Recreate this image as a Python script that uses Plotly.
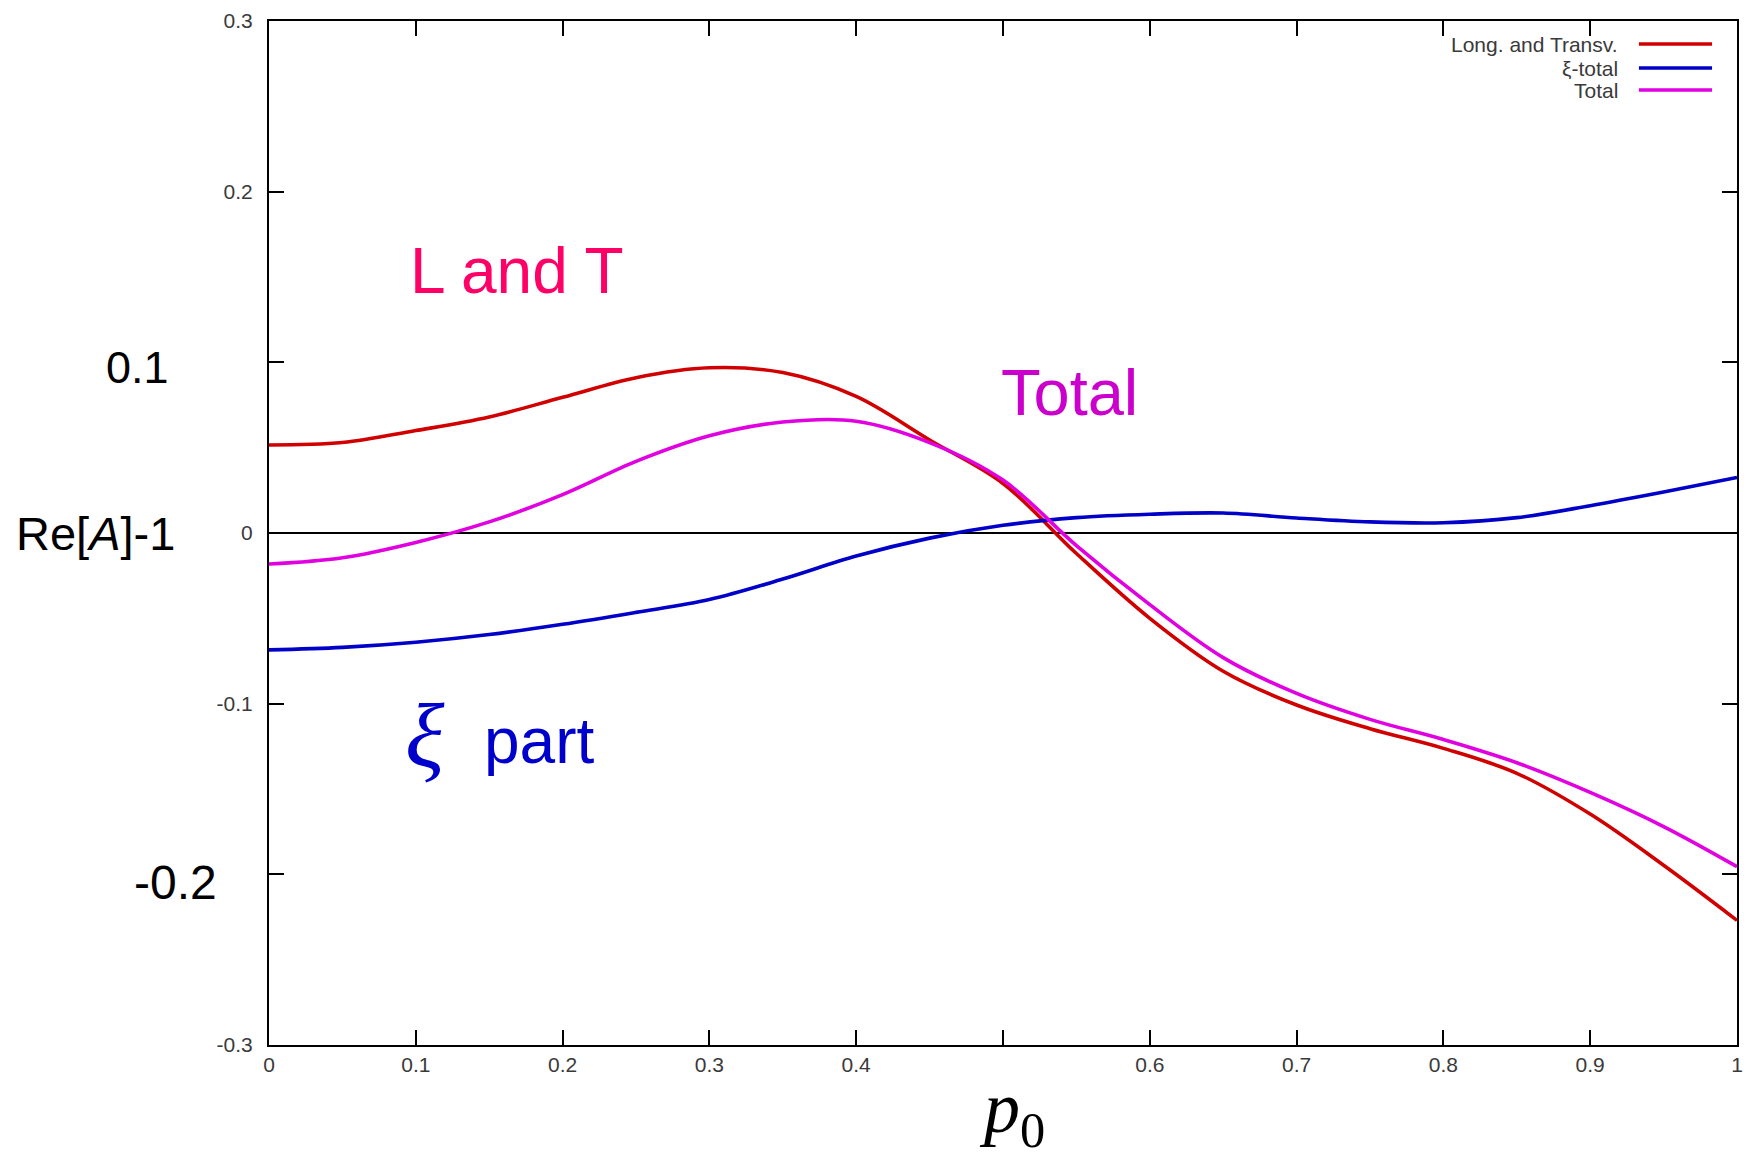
import plotly.graph_objects as go

# ---------------- data ----------------
p0 = [0.0, 0.05, 0.1, 0.15, 0.2, 0.25, 0.3, 0.35, 0.4, 0.45, 0.5,
      0.55, 0.6, 0.65, 0.7, 0.75, 0.8, 0.85, 0.9, 0.95, 1.0]

long_transv = [0.0516, 0.053, 0.060, 0.068, 0.0795, 0.091, 0.0968, 0.094, 0.080, 0.0545, 0.029,
               -0.012, -0.050, -0.081, -0.1008, -0.1147, -0.1262, -0.1408, -0.1647, -0.1947, -0.227]

xi_total = [-0.0685, -0.067, -0.064, -0.0595, -0.0535, -0.0465, -0.039, -0.027, -0.0135, -0.003, 0.0045,
            0.009, 0.011, 0.0117, 0.0088, 0.0065, 0.006, 0.009, 0.016, 0.024, 0.0325]

total = [-0.0182, -0.0145, -0.0055, 0.0065, 0.0225, 0.042, 0.057, 0.065, 0.0655, 0.053, 0.031,
         -0.0074, -0.042, -0.073, -0.094, -0.1092, -0.121, -0.1346, -0.152, -0.172, -0.1955]

series_names = ["Long. and Transv.", "ξ-total", "Total"]
series_colors = ["#D00000", "#0000C8", "#E000E0"]

x_tickvals = [0, 0.1, 0.2, 0.3, 0.4, 0.5, 0.6, 0.7, 0.8, 0.9, 1.0]
x_ticktext = ["0", "0.1", "0.2", "0.3", "0.4", "", "0.6", "0.7", "0.8", "0.9", "1"]
y_tickvals = [-0.3, -0.2, -0.1, 0, 0.1, 0.2, 0.3]
y_ticktext = ["-0.3", "", "-0.1", "0", "", "0.2", "0.3"]

# ---------------- figure ----------------
fig = go.Figure()
for name, ys, col in zip(series_names, [long_transv, xi_total, total], series_colors):
    fig.add_trace(go.Scatter(x=p0, y=ys, mode="lines", name=name,
                             line=dict(color=col, width=3.6, shape="spline", smoothing=1.0),
                             showlegend=False))

SANS = "Arial, Liberation Sans, sans-serif"
SERIF = "Times New Roman, Liberation Serif, serif"
TICKFONT = dict(family=SANS, size=21, color="#3a3a3a")

fig.update_layout(
    width=1747, height=1158,
    margin=dict(l=269, r=10, t=21, b=113),
    paper_bgcolor="white", plot_bgcolor="white",
    xaxis=dict(range=[0, 1], tickmode="array", tickvals=x_tickvals, ticktext=x_ticktext,
               ticks="inside", ticklen=15, tickwidth=1.5, tickcolor="black",
               showline=True, linecolor="black", linewidth=2, mirror="allticks",
               showgrid=False, zeroline=False, automargin=False,
               tickfont=TICKFONT),
    yaxis=dict(range=[-0.3, 0.3], tickmode="array", tickvals=y_tickvals, ticktext=y_ticktext,
               ticks="inside", ticklen=15, tickwidth=1.5, tickcolor="black",
               showline=True, linecolor="black", linewidth=2, mirror="allticks",
               showgrid=False, zeroline=True, zerolinecolor="black", zerolinewidth=2,
               automargin=False, ticklabelstandoff=10,
               tickfont=TICKFONT),
    showlegend=False,
)

# gnuplot-style key (text right-aligned, sample line to the right)
key_rows = [0.9775, 0.954, 0.9326]
for name, col, yy in zip(series_names, series_colors, key_rows):
    fig.add_annotation(xref="paper", yref="paper", x=0.9203, y=yy, text=name,
                       showarrow=False, xanchor="right", yanchor="middle",
                       font=dict(family=SANS, size=21, color="#3a3a3a"))
    fig.add_shape(type="line", xref="paper", yref="paper", x0=0.9332, x1=0.983, y0=yy, y1=yy,
                  line=dict(color=col, width=3.5))

# large overlay labels
fig.add_annotation(xref="paper", yref="y", x=-0.1185, y=0.0, text="Re[<i>A</i>]-1",
                   showarrow=False, xanchor="center", yanchor="middle",
                   font=dict(family=SANS, size=47, color="black"))
fig.add_annotation(xref="paper", yref="y", x=-0.0899, y=0.097, text="0.1",
                   showarrow=False, xanchor="center", yanchor="middle",
                   font=dict(family=SANS, size=45, color="black"))
fig.add_annotation(xref="paper", yref="y", x=-0.064, y=-0.2045, text="-0.2",
                   showarrow=False, xanchor="center", yanchor="middle",
                   font=dict(family=SANS, size=48, color="black"))

# curve labels
fig.add_annotation(x=0.169, y=0.1535, text="L and T", showarrow=False,
                   font=dict(family=SANS, size=64, color="#FF0066"))
fig.add_annotation(x=0.545, y=0.0826, text="Total", showarrow=False,
                   font=dict(family=SANS, size=65, color="#CC00CC"))
fig.add_annotation(x=0.106, y=-0.119, text="<i>ξ</i>", showarrow=False,
                   font=dict(family=SERIF, size=92, color="#0000CC"))
fig.add_annotation(x=0.1846, y=-0.122, text="part", showarrow=False,
                   font=dict(family=SANS, size=64, color="#0000CC"))

# x-axis title
fig.add_annotation(xref="paper", yref="paper", x=0.506, y=-0.066, text="<i>p</i><sub>0</sub>",
                   showarrow=False, xanchor="center", yanchor="middle",
                   font=dict(family=SERIF, size=72, color="black"))

fig.write_html("out.html", config={"displayModeBar": False},
               post_script="document.body.style.margin='0';document.body.style.overflow='hidden';")
